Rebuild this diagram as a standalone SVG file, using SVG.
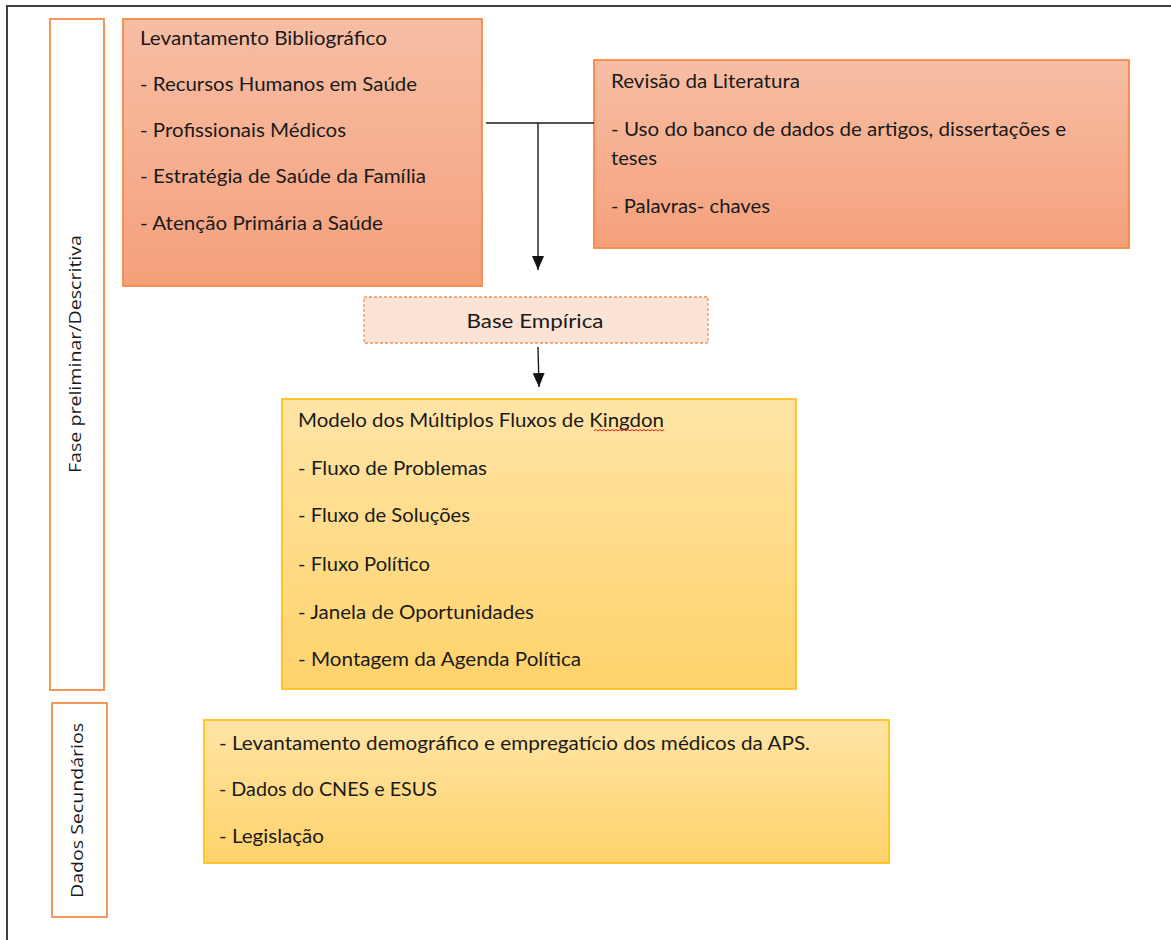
<svg xmlns="http://www.w3.org/2000/svg" width="1171" height="940" viewBox="0 0 1171 940">
  <defs>
    <linearGradient id="gOrange" x1="0" y1="0" x2="0" y2="1">
      <stop offset="0" stop-color="#f7bea5"/>
      <stop offset="1" stop-color="#f5a07b"/>
    </linearGradient>
    <linearGradient id="gYellow" x1="0" y1="0" x2="0" y2="1">
      <stop offset="0" stop-color="#ffe4a6"/>
      <stop offset="1" stop-color="#ffd36b"/>
    </linearGradient>
    <marker id="arrow" viewBox="0 0 14 12" refX="14" refY="6" markerWidth="14" markerHeight="12" markerUnits="userSpaceOnUse" orient="auto">
      <path d="M0,0 L14,6 L0,12 Z" fill="#111"/>
    </marker>
    <style>
      .frame { fill: none; stroke: #3f3f3f; stroke-width: 2; }
      .label { fill: #ffffff; stroke: #f4955a; stroke-width: 2; }
      .orange { fill: url(#gOrange); stroke: #f68a45; stroke-width: 1.8; }
      .yellow { fill: url(#gYellow); stroke: #ffc21a; stroke-width: 1.8; }
      .dashed { fill: #fbe4d6; stroke: #f1935b; stroke-width: 1.3; stroke-dasharray: 3 2; }
      .t { font-family: Lato, "Open Sans", "Liberation Sans", sans-serif; font-size: 19.5px; fill: #1a1a1a; }
      .vt { font-family: "Open Sans", "Liberation Sans", sans-serif; font-size: 16px; fill: #1a1a1a; }
      .conn { fill: none; stroke: #1a1a1a; stroke-width: 1.4; }
      .squig { fill: none; stroke: #e02020; stroke-width: 1; }
    </style>
  </defs>

  <g id="frame">
    <path class="frame" d="M7,940 L7,6 L1171,6"/>
  </g>

  <g id="label-fase">
    <rect class="label" x="50" y="19" width="54" height="671"/>
    <text class="vt" transform="translate(81,473) rotate(-90)" textLength="238" lengthAdjust="spacingAndGlyphs">Fase preliminar/Descritiva</text>
  </g>

  <g id="label-dados">
    <rect class="label" x="52" y="703" width="55" height="214"/>
    <text class="vt" transform="translate(83,898) rotate(-90)" textLength="175" lengthAdjust="spacingAndGlyphs">Dados Secundários</text>
  </g>

  <g id="levantamento">
    <rect class="orange" x="123" y="19" width="359" height="267"/>
    <text class="t" x="140" y="45" textLength="247" lengthAdjust="spacingAndGlyphs">Levantamento Bibliográfico</text>
    <text class="t" x="140" y="91" textLength="277" lengthAdjust="spacingAndGlyphs">- Recursos Humanos em Saúde</text>
    <text class="t" x="140" y="137" textLength="206" lengthAdjust="spacingAndGlyphs">- Profissionais Médicos</text>
    <text class="t" x="140" y="183" textLength="286" lengthAdjust="spacingAndGlyphs">- Estratégia de Saúde da Família</text>
    <text class="t" x="140" y="230" textLength="243" lengthAdjust="spacingAndGlyphs">- Atenção Primária a Saúde</text>
  </g>

  <g id="revisao">
    <rect class="orange" x="594" y="60" width="535" height="188"/>
    <text class="t" x="611" y="88" textLength="189" lengthAdjust="spacingAndGlyphs">Revisão da Literatura</text>
    <text class="t" x="611" y="136" textLength="455" lengthAdjust="spacingAndGlyphs">- Uso do banco de dados de artigos, dissertações e</text>
    <text class="t" x="611" y="165" textLength="46" lengthAdjust="spacingAndGlyphs">teses</text>
    <text class="t" x="611" y="213" textLength="159" lengthAdjust="spacingAndGlyphs">- Palavras- chaves</text>
  </g>

  <g id="base-empirica">
    <rect class="dashed" x="364" y="297" width="344" height="46"/>
    <text class="t" x="535" y="328" text-anchor="middle" textLength="137" lengthAdjust="spacingAndGlyphs">Base Empírica</text>
  </g>

  <g id="kingdon">
    <rect class="yellow" x="282" y="399" width="514" height="290"/>
    <text class="t" x="298" y="427" textLength="366" lengthAdjust="spacingAndGlyphs">Modelo dos Múltiplos Fluxos de Kingdon</text>
    <path class="squig" d="M594,431 l2,-1.5 l2,1.5 l2,-1.5 l2,1.5 l2,-1.5 l2,1.5 l2,-1.5 l2,1.5 l2,-1.5 l2,1.5 l2,-1.5 l2,1.5 l2,-1.5 l2,1.5 l2,-1.5 l2,1.5 l2,-1.5 l2,1.5 l2,-1.5 l2,1.5 l2,-1.5 l2,1.5 l2,-1.5 l2,1.5 l2,-1.5 l2,1.5 l2,-1.5 l2,1.5 l2,-1.5 l2,1.5 l2,-1.5 l2,1.5 l2,-1.5 l2,1.5 l2,-1.5"/>
    <text class="t" x="298" y="475" textLength="189" lengthAdjust="spacingAndGlyphs">- Fluxo de Problemas</text>
    <text class="t" x="298" y="522" textLength="172" lengthAdjust="spacingAndGlyphs">- Fluxo de Soluções</text>
    <text class="t" x="298" y="571" textLength="132" lengthAdjust="spacingAndGlyphs">- Fluxo Político</text>
    <text class="t" x="298" y="619" textLength="236" lengthAdjust="spacingAndGlyphs">- Janela de Oportunidades</text>
    <text class="t" x="298" y="666" textLength="283" lengthAdjust="spacingAndGlyphs">- Montagem da Agenda Política</text>
  </g>

  <g id="dados-secundarios">
    <rect class="yellow" x="204" y="720" width="685" height="143"/>
    <text class="t" x="219" y="750" textLength="591" lengthAdjust="spacingAndGlyphs">- Levantamento demográfico e empregatício dos médicos da APS.</text>
    <text class="t" x="219" y="796" textLength="218" lengthAdjust="spacingAndGlyphs">- Dados do CNES e ESUS</text>
    <text class="t" x="219" y="843" textLength="105" lengthAdjust="spacingAndGlyphs">- Legislação</text>
  </g>

  <g id="connectors">
    <path class="conn" d="M486,123 L594,123"/>
    <path class="conn" d="M538,123 L538,270" marker-end="url(#arrow)"/>
    <path class="conn" d="M538,347 L539,387" marker-end="url(#arrow)"/>
  </g>
</svg>
